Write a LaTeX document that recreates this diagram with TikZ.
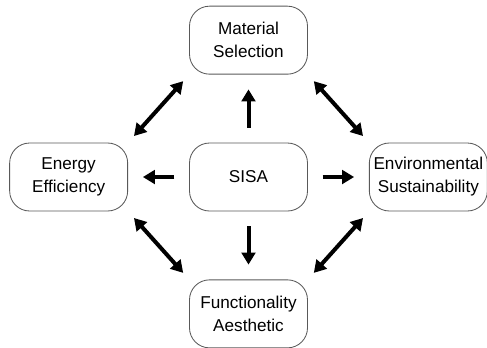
\documentclass[tikz,border=0pt]{standalone}
\usepackage{fontspec}
\setmainfont{Liberation Sans}
\usetikzlibrary{positioning,arrows.meta}

\begin{document}
\begin{tikzpicture}[font=\fontsize{12.2}{16.3}\selectfont, line join=round,
		box/.style={draw=black!65, line width=0.6pt, rounded corners=0.5cm, minimum width=2.95cm, minimum height=1.7cm, align=center, inner sep=1pt},
		tip/.tip={Triangle[length=0.3cm,width=0.34cm]},
		arr/.style={-tip, line width=0.1cm, shorten <=0.37cm, shorten >=0.37cm},
		darr/.style={tip-tip, line width=0.1cm, shorten <=0.22cm, shorten >=0.22cm}]
	\useasboundingbox (0,0) rectangle (12.175,-8.675);
	\node[box] (sisa) at (6.2125,-4.425) {SISA};
	\node[box, above=1.7cm of sisa] (mat) {Material\\Selection};
	\node[box, below=1.7cm of sisa] (fun) {Functionality\\Aesthetic};
	\node[box, left=1.525cm of sisa] (ene) {Energy\\Efficiency};
	\node[box, right=1.525cm of sisa] (env) {Environmental\\Sustainability};
	\foreach \n in {mat,fun,ene,env} \draw[arr] (sisa) -- (\n);
	\draw[darr] (ene.north east) -- (mat.south west);
	\draw[darr] (mat.south east) -- (env.north west);
	\draw[darr] (ene.south east) -- (fun.north west);
	\draw[darr] (env.south west) -- (fun.north east);
\end{tikzpicture}
\end{document}
